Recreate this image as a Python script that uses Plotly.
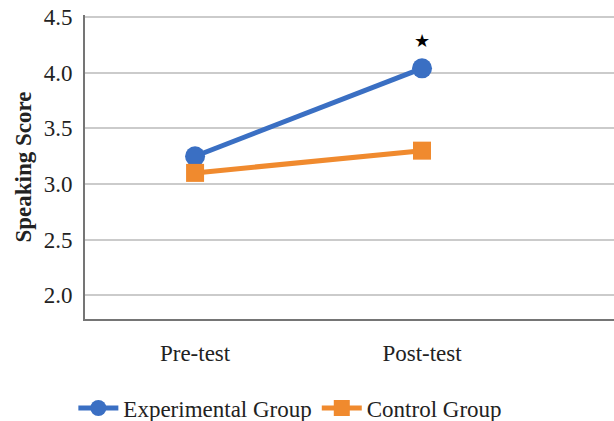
import plotly.graph_objects as go

categories = ["Pre-test", "Post-test"]
experimental = [3.25, 4.04]
control = [3.10, 3.30]
y_ticks = [2.0, 2.5, 3.0, 3.5, 4.0, 4.5]

blue = "#3A6FC3"
orange = "#F08A2E"
font_family = "Liberation Serif, Times New Roman, serif"

fig = go.Figure()
fig.add_trace(go.Scatter(
    x=categories, y=experimental, mode="lines+markers", name="Experimental Group",
    line=dict(color=blue, width=5), marker=dict(symbol="circle", size=20, color=blue),
))
fig.add_trace(go.Scatter(
    x=categories, y=control, mode="lines+markers", name="Control Group",
    line=dict(color=orange, width=5), marker=dict(symbol="square", size=18, color=orange),
))

fig.add_annotation(x=categories[1], y=experimental[1], text="★", showarrow=False,
                   yshift=28, font=dict(size=18, color="black", family="DejaVu Sans"))

fig.update_layout(
    width=614, height=421,
    margin=dict(l=85, r=0, t=15, b=102, autoexpand=False),
    paper_bgcolor="white", plot_bgcolor="white",
    font=dict(family=font_family, size=23, color="#222"),
    showlegend=True,
    legend=dict(orientation="h", x=-0.022, y=-0.293, xanchor="left", yanchor="middle",
                font=dict(size=23, family=font_family), itemwidth=40,
                tracegroupgap=0, bgcolor="rgba(0,0,0,0)"),
    xaxis=dict(type="category", range=[-0.485, 1.846], showgrid=False,
               showline=True, linecolor="#757575", linewidth=2, ticks="",
               tickfont=dict(size=23), ticklabelstandoff=12),
    yaxis=dict(range=[1.786, 4.52], tickvals=y_ticks, ticktext=[f"{v:.1f}" for v in y_ticks],
               showgrid=True, gridcolor="#cbcbcb", gridwidth=1.5,
               showline=True, linecolor="#757575", linewidth=2, ticks="",
               tickfont=dict(size=23), ticklabelstandoff=6, zeroline=False,
               ticklabeloverflow="allow",
               title=dict(text="<b>Speaking Score</b>", font=dict(size=23), standoff=6)),
)

# remove the page's default 8px body margin so the figure fills the window exactly
fig.write_html("out.html", config={"displayModeBar": False},
               post_script="document.body.style.margin='0';")
